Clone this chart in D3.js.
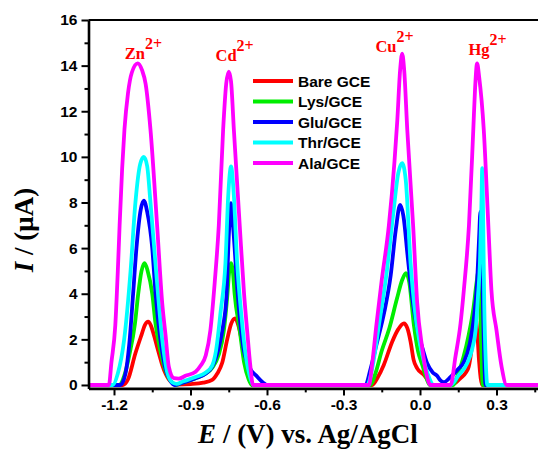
<!DOCTYPE html>
<html><head><meta charset="utf-8">
<script src="https://cdn.jsdelivr.net/npm/d3@7"></script>
<style>body{margin:0;background:#fff}svg{display:block}</style>
</head><body><svg id="c" width="538" height="449"></svg>
<script>
// ---- data ----
const seriesNames = ["Bare GCE","Lys/GCE","Glu/GCE","Thr/GCE","Ala/GCE"];
const seriesColors = ["#ff0000","#00ee00","#0000ff","#00ffff","#ff00ff"];
const bareGCE = [[-1.30,0],[-1.165,0],[-1.145,0.25],[-1.116,1.39],[-1.092,2.2],[-1.078,2.65],[-1.066,2.78],[-1.055,2.6],[-1.044,2.2],[-1.024,1.39],[-1.01,0.85],[-0.998,0.5],[-0.975,0.12],[-0.95,0.02],[-0.9,0.04],[-0.85,0.1],[-0.815,0.22],[-0.795,0.5],[-0.776,0.96],[-0.756,2.0],[-0.74,2.7],[-0.725,2.92],[-0.712,2.6],[-0.70,2.0],[-0.684,0.96],[-0.67,0.3],[-0.658,0],
[-0.188,0],[-0.165,0.35],[-0.142,0.88],[-0.109,1.9],[-0.085,2.45],[-0.063,2.7],[-0.05,2.5],[-0.037,1.9],[-0.025,1.1],[-0.011,0.73],[0.015,0.45],[0.035,0.15],[0.046,0],
[0.12,0],[0.14,0.1],[0.159,0.3],[0.18,0.55],[0.191,0.8],[0.205,1.8],[0.212,2.5],[0.218,2.92],[0.224,2.4],[0.232,1.0],[0.238,0.3],[0.244,0],[0.5,0]];
const lysGCE = [[-1.30,0],[-1.18,0],[-1.16,0.4],[-1.14,1.3],[-1.118,2.67],[-1.105,4.0],[-1.092,5.0],[-1.08,5.34],[-1.068,5.0],[-1.05,4.0],[-1.037,2.67],[-1.02,1.6],[-1.008,1.0],[-0.99,0.4],[-0.97,0.08],[-0.958,0],[-0.93,0.1],[-0.88,0.3],[-0.84,0.5],[-0.815,0.75],[-0.79,1.3],[-0.769,2.4],[-0.755,4.0],[-0.748,5.0],[-0.741,5.34],[-0.734,5.0],[-0.727,4.0],[-0.707,2.4],[-0.69,1.0],[-0.672,0.25],[-0.66,0],
[-0.194,0],[-0.175,0.5],[-0.15,1.5],[-0.12,2.5],[-0.09,3.8],[-0.07,4.6],[-0.055,4.9],[-0.042,4.5],[-0.024,2.63],[-0.008,1.5],[0.009,0.88],[0.025,0.3],[0.038,0],
[0.13,0],[0.15,0.5],[0.17,1.2],[0.191,2.2],[0.21,3.4],[0.222,4.5],[0.229,4.97],[0.235,4.0],[0.24,1.8],[0.244,0.3],[0.247,0],[0.5,0]];
const gluGCE = [[-1.30,0],[-1.175,0],[-1.155,0.5],[-1.14,1.8],[-1.125,4.0],[-1.112,6.0],[-1.095,7.7],[-1.083,8.08],[-1.07,7.6],[-1.05,6.0],[-1.037,4.0],[-1.018,2.0],[-1.0,0.8],[-0.98,0.2],[-0.962,0],[-0.93,0.1],[-0.88,0.3],[-0.84,0.5],[-0.815,0.8],[-0.79,1.6],[-0.772,2.6],[-0.759,3.87],[-0.75,6.5],[-0.741,7.97],[-0.732,6.8],[-0.714,3.87],[-0.695,1.8],[-0.67,0.8],[-0.638,0.36],[-0.615,0.1],[-0.6,0],
[-0.214,0],[-0.194,0.7],[-0.17,1.8],[-0.14,3.2],[-0.115,4.8],[-0.095,6.8],[-0.078,7.89],[-0.065,7.4],[-0.048,5.6],[-0.031,3.87],[-0.011,2.5],[0.01,1.6],[0.028,0.95],[0.05,0.55],[0.067,0.4],[0.08,0.2],[0.093,0.12],[0.12,0.35],[0.15,0.7],[0.172,1.0],[0.195,1.8],[0.212,3.0],[0.224,4.5],[0.232,6.5],[0.237,7.6],[0.243,5.5],[0.25,2.0],[0.257,0],[0.5,0]];
const thrGCE = [[-1.30,0],[-1.205,0],[-1.185,0.5],[-1.16,2.0],[-1.135,5.0],[-1.116,8.0],[-1.097,9.7],[-1.083,10.0],[-1.07,9.6],[-1.057,8.0],[-1.035,5.0],[-1.011,2.0],[-0.99,0.5],[-0.97,0.1],[-0.955,0.05],[-0.93,0.15],[-0.88,0.35],[-0.84,0.55],[-0.815,0.85],[-0.8,1.5],[-0.782,3.2],[-0.763,5.34],[-0.752,8.3],[-0.741,9.58],[-0.73,8.3],[-0.717,5.34],[-0.70,3.0],[-0.688,1.68],[-0.67,0.5],[-0.653,0],
[-0.207,0],[-0.188,0.7],[-0.161,2.63],[-0.13,5.0],[-0.105,7.5],[-0.085,9.3],[-0.07,9.72],[-0.056,9.0],[-0.037,5.34],[-0.015,2.8],[0.002,1.68],[0.03,0.5],[0.054,0],
[0.12,0],[0.15,0.4],[0.185,0.95],[0.205,1.6],[0.218,2.4],[0.228,4.0],[0.235,5.34],[0.241,8.0],[0.244,9.5],[0.248,7.0],[0.252,3.5],[0.258,1.0],[0.264,0],[0.5,0]];
const alaGCE = [[-1.30,0],[-1.22,0],[-1.21,1.0],[-1.195,2.6],[-1.185,5.0],[-1.178,7.0],[-1.168,9.5],[-1.159,11.2],[-1.145,12.8],[-1.13,13.7],[-1.107,14.1],[-1.09,13.8],[-1.076,13.2],[-1.057,11.2],[-1.031,7.0],[-1.011,3.6],[-0.998,2.2],[-0.985,0.8],[-0.965,0.3],[-0.946,0.28],[-0.92,0.4],[-0.88,0.58],[-0.86,0.85],[-0.84,1.3],[-0.822,2.4],[-0.805,4.5],[-0.789,7.0],[-0.772,11.2],[-0.76,13.2],[-0.75,13.74],[-0.741,13.3],[-0.73,11.2],[-0.707,7.0],[-0.69,4.0],[-0.678,2.4],[-0.665,0.8],[-0.655,0],
[-0.2,0],[-0.188,0.88],[-0.171,2.63],[-0.15,4.6],[-0.122,7.0],[-0.1,9.8],[-0.089,11.6],[-0.078,13.8],[-0.07,14.52],[-0.062,13.8],[-0.05,11.2],[-0.027,7.0],[-0.011,3.6],[0.009,1.6],[0.025,0.5],[0.041,0],
[0.12,0],[0.139,1.24],[0.159,2.7],[0.172,4.17],[0.192,7.0],[0.209,11.2],[0.216,13.0],[0.224,14.1],[0.232,13.5],[0.25,11.2],[0.268,7.0],[0.28,4.17],[0.3,2.4],[0.32,0.8],[0.34,0],[0.5,0]];
const seriesData = [bareGCE, lysGCE, gluGCE, thrGCE, alaGCE];
const yTicks = [0,2,4,6,8,10,12,14,16];
const yMinorTicks = [1,3,5,7,9,11,13,15];
const xTicks = [-1.2,-0.9,-0.6,-0.3,0.0,0.3];
const xMinorTicks = [-1.05,-0.75,-0.45,-0.15,0.15,0.45];
const ionNames = ["Zn","Cd","Cu","Hg"];
const ionLabelE = [-1.158,-0.802,-0.175,0.190];
const ionLabelI = [14.3,14.2,14.6,14.45];

// ---- chart ----
const svg = d3.select("#c");
const x = d3.scaleLinear().domain([-1.3, 0.5]).range([88.5, 547.5]);
const y = d3.scaleLinear().domain([-0.15, 16]).range([388.4, 20]);
const sans = "'Liberation Sans', Arial, sans-serif";
const serif = "'Liberation Serif', 'Times New Roman', serif";

svg.append("clipPath").attr("id","clip").append("rect")
  .attr("x", 89).attr("y", 18).attr("width", 460).attr("height", 370);

const line = d3.line().x(d => x(d[0])).y(d => y(d[1])).curve(d3.curveMonotoneX);
const g = svg.append("g").attr("clip-path","url(#clip)");
seriesData.forEach((s, i) => {
  g.append("path").datum(s).attr("d", line).attr("fill","none")
    .attr("stroke", seriesColors[i]).attr("stroke-width", 3.8)
    .attr("stroke-linejoin","round").attr("stroke-linecap","round");
});

// top border
svg.append("line").attr("x1", x(-1.3)).attr("x2", 538).attr("y1", y(16)).attr("y2", y(16))
  .attr("stroke","#000").attr("stroke-width",2.2);

// axes
function styleAxis(sel){
  sel.selectAll("path.domain").attr("stroke","#000").attr("stroke-width",2.6);
  sel.selectAll(".tick line").attr("stroke","#000").attr("stroke-width",2);
  sel.selectAll(".tick text").attr("fill","#000").style("font-family",sans)
    .style("font-weight","bold").style("font-size","15.5px");
}
const yAx = svg.append("g").attr("transform",`translate(${x(-1.3)},0)`)
  .call(d3.axisLeft(y).tickValues(yTicks).tickSize(7).tickSizeOuter(0).tickPadding(4).tickFormat(d3.format("d")));
styleAxis(yAx);
const yAxM = svg.append("g").attr("transform",`translate(${x(-1.3)},0)`)
  .call(d3.axisLeft(y).tickValues(yMinorTicks).tickSize(4).tickFormat(""));
yAxM.select("path.domain").remove(); styleAxis(yAxM);

const xAx = svg.append("g").attr("transform",`translate(0,${y(-0.15)})`)
  .call(d3.axisBottom(x).tickValues(xTicks).tickSize(7).tickSizeOuter(0).tickPadding(4).tickFormat(d => d3.format(".1f")(d).replace("−","-")));
styleAxis(xAx);
const xAxM = svg.append("g").attr("transform",`translate(0,${y(-0.15)})`)
  .call(d3.axisBottom(x).tickValues(xMinorTicks).tickSize(4).tickFormat(""));
xAxM.select("path.domain").remove(); styleAxis(xAxM);

// axis titles
const yt = svg.append("text").attr("transform","translate(33,230) rotate(-90)")
  .attr("text-anchor","middle").style("font-family",serif).style("font-weight","bold").style("font-size","27px");
yt.append("tspan").style("font-style","italic").text("I");
yt.append("tspan").text(" / (μA)");
const xt = svg.append("text").attr("x",308).attr("y",443)
  .attr("text-anchor","middle").style("font-family",serif).style("font-weight","bold").style("font-size","27px");
xt.append("tspan").style("font-style","italic").text("E");
xt.append("tspan").text(" / (V) vs. Ag/AgCl");

// ion labels
ionNames.forEach((n, i) => {
  const t = svg.append("text").attr("x", x(ionLabelE[i])).attr("y", y(ionLabelI[i]))
    .attr("fill","#ff0000").style("font-family",serif).style("font-weight","bold").style("font-size","16.5px");
  t.append("tspan").text(n);
  t.append("tspan").attr("dy",-10).style("font-size","16px").text("2+");
});

// legend
const lg = svg.append("g").attr("transform","translate(253,81)");
seriesNames.forEach((n, i) => {
  const r = lg.append("g").attr("transform",`translate(0,${i*20.5})`);
  r.append("line").attr("x1",0).attr("x2",40).attr("y1",0).attr("y2",0)
    .attr("stroke",seriesColors[i]).attr("stroke-width",3.8);
  r.append("text").attr("x",45).attr("y",5.5).text(n)
    .style("font-family",sans).style("font-weight","bold").style("font-size","15.5px");
});
</script></body></html>
